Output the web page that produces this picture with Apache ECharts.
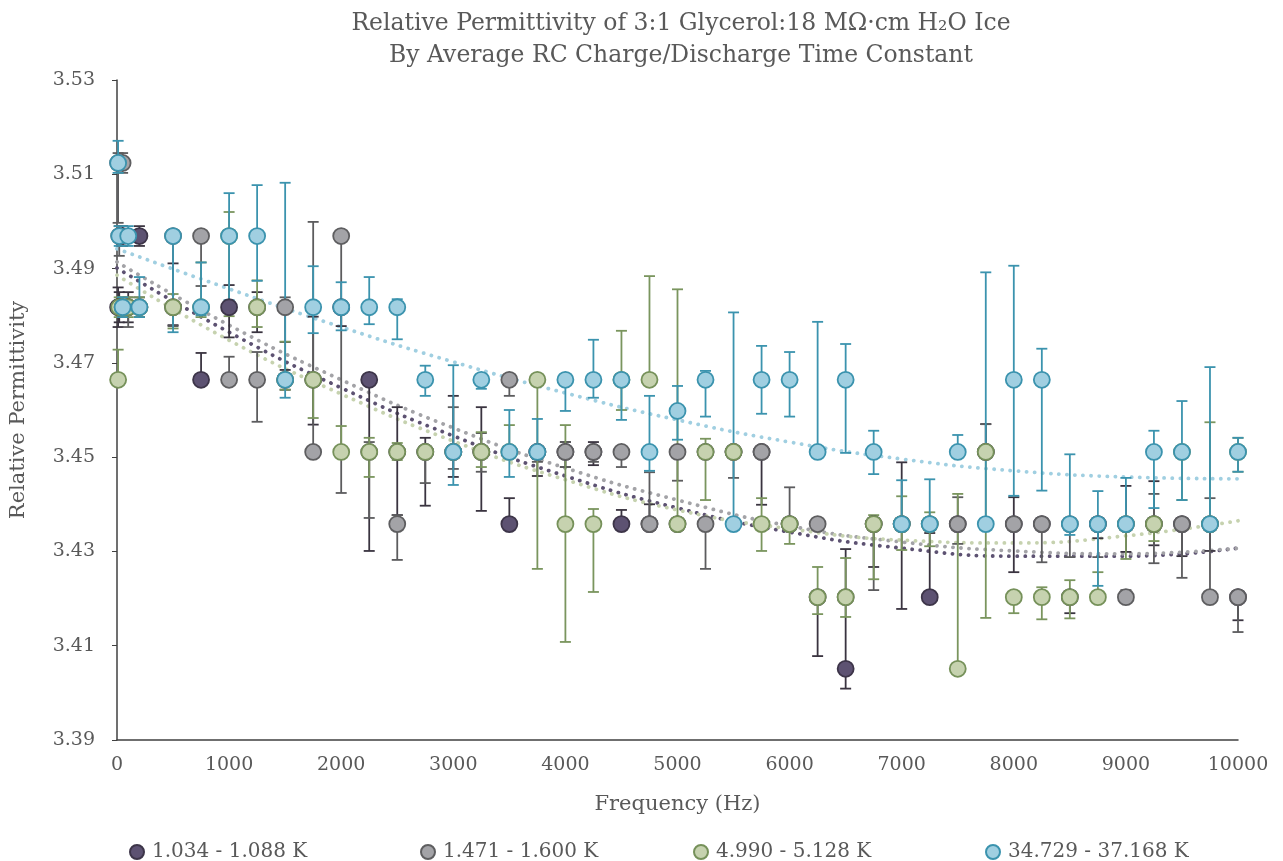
<!DOCTYPE html>
<html>
<head>
<meta charset="utf-8">
<title>Relative Permittivity</title>
<script src="https://cdn.jsdelivr.net/npm/echarts@6/dist/echarts.min.js"></script>
<style>
  html, body { margin: 0; padding: 0; background: #fff; }
  #chart { width: 1283px; height: 861px; }
</style>
</head>
<body>
<div id="chart"></div>
<script>
// frequencies (Hz)
const XS = [10, 20, 50, 100, 200, 500, 750, 1000, 1250, 1500, 1750, 2000, 2250, 2500, 2750,
  3000, 3250, 3500, 3750, 4000, 4250, 4500, 4750, 5000, 5250, 5500, 5750, 6000, 6250, 6500,
  6750, 7000, 7250, 7500, 7750, 8000, 8250, 8500, 8750, 9000, 9250, 9500, 9750, 10000];

const NAMES = ['1.034 - 1.088 K', '1.471 - 1.600 K', '4.990 - 5.128 K', '34.729 - 37.168 K'];

// 1.034 - 1.088 K
const s1Val = [3.4818, 3.4818, 3.4969, 3.4818, 3.4969, 3.4818, 3.4664, 3.4818, 3.4818, 3.4664,
  3.4664, 3.4818, 3.4664, 3.4511, 3.4511, 3.4511, 3.4511, 3.4358, 3.4511, 3.4511,
  3.4511, 3.4358, 3.4358, 3.4358, 3.4511, 3.4511, 3.4511, 3.4358, 3.4203, 3.4051,
  3.4358, 3.4358, 3.4203, 3.4358, 3.4511, 3.4358, 3.4358, 3.4203, 3.4358, 3.4358,
  3.4358, 3.4358, 3.4358, 3.4203];
const s1Plus = [0.0042, 0.0032, 0.0021, 0.0032, 0.0021, 0.0093, 0.0057, 0.0047, 0.0032, 0.0021,
  0.0134, 0.0011, 0.0011, 0.0095, 0.0030, 0.0119, 0.0095, 0.0055, 0.0011, 0.0021,
  0.0021, 0.0030, 0.0042, 0.0011, 0.0011, 0.0011, 0.0011, 0.0011, 0.0011, 0.0254,
  0.0011, 0.0131, 0.0136, 0.0011, 0.0059, 0.0057, 0.0011, 0.0011, 0.0011, 0.0081,
  0.0091, 0.0011, 0.0011, 0.0011];
const s1Minus = [0.0042, 0.0032, 0.0021, 0.0032, 0.0021, 0.0038, 0.0011, 0.0064, 0.0053, 0.0021,
  0.0095, 0.0040, 0.0363, 0.0134, 0.0114, 0.0053, 0.0125, 0.0006, 0.0051, 0.0032,
  0.0028, 0.0006, 0.0006, 0.0011, 0.0011, 0.0011, 0.0112, 0.0011, 0.0125, 0.0042,
  0.0091, 0.0180, 0.0011, 0.0011, 0.0011, 0.0102, 0.0011, 0.0034, 0.0030, 0.0059,
  0.0045, 0.0068, 0.0057, 0.0049];

// 1.471 - 1.600 K
const s2Val = [3.5124, 3.4969, 3.5124, 3.4818, 3.4818, 3.4969, 3.4969, 3.4664, 3.4664, 3.4818,
  3.4511, 3.4969, 3.4511, 3.4358, 3.4511, 3.4511, 3.4511, 3.4664, 3.4511, 3.4511,
  3.4511, 3.4511, 3.4358, 3.4511, 3.4358, 3.4511, 3.4511, 3.4358, 3.4358, 3.4203,
  3.4358, 3.4358, 3.4358, 3.4358, 3.4511, 3.4358, 3.4358, 3.4358, 3.4358, 3.4203,
  3.4358, 3.4358, 3.4203, 3.4203];
const s2Plus = [0.0021, 0.0021, 0.0021, 0.0021, 0.0021, 0.0011, 0.0011, 0.0049, 0.0059, 0.0021,
  0.0488, 0.0006, 0.0021, 0.0019, 0.0011, 0.0095, 0.0040, 0.0006, 0.0011, 0.0021,
  0.0011, 0.0011, 0.0110, 0.0011, 0.0011, 0.0011, 0.0011, 0.0078, 0.0011, 0.0011,
  0.0011, 0.0011, 0.0011, 0.0057, 0.0059, 0.0011, 0.0011, 0.0011, 0.0011, 0.0015,
  0.0064, 0.0011, 0.0210, 0.0011];
const s2Minus = [0.0127, 0.0042, 0.0021, 0.0042, 0.0021, 0.0191, 0.0106, 0.0006, 0.0089, 0.0074,
  0.0011, 0.0545, 0.0140, 0.0076, 0.0066, 0.0036, 0.0042, 0.0034, 0.0021, 0.0032,
  0.0021, 0.0032, 0.0006, 0.0061, 0.0095, 0.0055, 0.0011, 0.0011, 0.0011, 0.0011,
  0.0140, 0.0011, 0.0011, 0.0042, 0.0011, 0.0011, 0.0081, 0.0070, 0.0070, 0.0011,
  0.0083, 0.0114, 0.0011, 0.0074];

// 4.990 - 5.128 K
const s3Val = [3.4664, 3.4818, 3.4818, 3.4818, 3.4818, 3.4818, 3.4818, 3.4969, 3.4818, 3.4664,
  3.4664, 3.4511, 3.4511, 3.4511, 3.4511, 3.4511, 3.4511, 3.4511, 3.4664, 3.4358,
  3.4358, 3.4664, 3.4664, 3.4358, 3.4511, 3.4511, 3.4358, 3.4358, 3.4203, 3.4203,
  3.4358, 3.4358, 3.4358, 3.4051, 3.4511, 3.4203, 3.4203, 3.4203, 3.4203, 3.4358,
  3.4358, 3.4511, 3.4358, 3.4511];
const s3Plus = [0.0064, 0.0021, 0.0021, 0.0021, 0.0021, 0.0028, 0.0095, 0.0051, 0.0057, 0.0081,
  0.0011, 0.0055, 0.0030, 0.0019, 0.0011, 0.0011, 0.0042, 0.0057, 0.0006, 0.0210,
  0.0032, 0.0104, 0.0220, 0.0498, 0.0028, 0.0011, 0.0055, 0.0011, 0.0064, 0.0083,
  0.0019, 0.0059, 0.0025, 0.0371, 0.0011, 0.0011, 0.0021, 0.0036, 0.0053, 0.0011,
  0.0011, 0.0011, 0.0216, 0.0030];
const s3Minus = [0.0011, 0.0021, 0.0021, 0.0021, 0.0021, 0.0045, 0.0021, 0.0170, 0.0042, 0.0021,
  0.0081, 0.0011, 0.0053, 0.0017, 0.0011, 0.0011, 0.0032, 0.0011, 0.0401, 0.0250,
  0.0144, 0.0064, 0.0011, 0.0011, 0.0102, 0.0011, 0.0057, 0.0042, 0.0036, 0.0042,
  0.0117, 0.0055, 0.0047, 0.0011, 0.0352, 0.0034, 0.0047, 0.0045, 0.0011, 0.0074,
  0.0036, 0.0102, 0.0011, 0.0042];

// 34.729 - 37.168 K
const s4Val = [3.5124, 3.4969, 3.4818, 3.4969, 3.4818, 3.4969, 3.4818, 3.4969, 3.4969, 3.4664,
  3.4818, 3.4818, 3.4818, 3.4818, 3.4664, 3.4511, 3.4664, 3.4511, 3.4511, 3.4664,
  3.4664, 3.4664, 3.4511, 3.4598, 3.4664, 3.4358, 3.4664, 3.4664, 3.4511, 3.4664,
  3.4511, 3.4358, 3.4358, 3.4511, 3.4358, 3.4664, 3.4664, 3.4358, 3.4358, 3.4358,
  3.4511, 3.4511, 3.4358, 3.4511];
const s4Plus = [0.0047, 0.0021, 0.0021, 0.0021, 0.0064, 0.0006, 0.0095, 0.0091, 0.0108, 0.0418,
  0.0087, 0.0053, 0.0064, 0.0017, 0.0030, 0.0184, 0.0004, 0.0089, 0.0070, 0.0006,
  0.0085, 0.0006, 0.0119, 0.0053, 0.0019, 0.0449, 0.0072, 0.0059, 0.0276, 0.0076,
  0.0045, 0.0093, 0.0095, 0.0036, 0.0534, 0.0242, 0.0066, 0.0148, 0.0070, 0.0098,
  0.0045, 0.0108, 0.0333, 0.0030];
const s4Minus = [0.0021, 0.0021, 0.0021, 0.0021, 0.0021, 0.0204, 0.0017, 0.0136, 0.0095, 0.0038,
  0.0055, 0.0049, 0.0036, 0.0068, 0.0034, 0.0070, 0.0019, 0.0053, 0.0015, 0.0066,
  0.0038, 0.0085, 0.0040, 0.0061, 0.0078, 0.0011, 0.0072, 0.0078, 0.0011, 0.0155,
  0.0047, 0.0011, 0.0011, 0.0011, 0.0011, 0.0246, 0.0235, 0.0023, 0.0131, 0.0011,
  0.0119, 0.0102, 0.0011, 0.0042];

// polynomial trendlines, every 1000 Hz
const TREND_X = [0, 1000, 2000, 3000, 4000, 5000, 6000, 7000, 8000, 9000, 10000];
const t1 = [3.4901, 3.4765, 3.4647, 3.4545, 3.4460, 3.4392, 3.4341, 3.4307, 3.4290, 3.4290, 3.4307];
const t2 = [3.4914, 3.4780, 3.4664, 3.4562, 3.4477, 3.4409, 3.4354, 3.4320, 3.4301, 3.4295, 3.4307];
const t3 = [3.4886, 3.4748, 3.4634, 3.4534, 3.4452, 3.4388, 3.4348, 3.4324, 3.4318, 3.4333, 3.4365];
const t4 = [3.4942, 3.4857, 3.4776, 3.4702, 3.4636, 3.4579, 3.4532, 3.4496, 3.4471, 3.4458, 3.4454];

const Y_TICKS = [3.39, 3.53, 0.02]; // min, max, step

const FONT = '"DejaVu Serif", "Liberation Serif", serif';
const TEXT = '#595959';

const STYLES = [
    { fill: '#5d5272', border: '#3d3549', bar: '#3a3440', trend: '#5d5272' },
    { fill: '#a3a3a7', border: '#5e5e60', bar: '#5c5c5e', trend: '#a3a3a7' },
    { fill: '#c6d2af', border: '#76915a', bar: '#7a955e', trend: '#c6d2af' },
    { fill: '#a0cfe1', border: '#3b93ae', bar: '#3b93ae', trend: '#a0cfe1' }
];

const groups = [
    [s1Val, s1Plus, s1Minus, t1],
    [s2Val, s2Plus, s2Minus, t2],
    [s3Val, s3Plus, s3Minus, t3],
    [s4Val, s4Plus, s4Minus, t4]
];

// error bar: vertical line with caps
function errorBars(name, vals, plus, minus, color) {
    return {
        name: name,
        type: 'custom',
        z: 3,
        silent: true,
        data: XS.map((x, i) => [x, vals[i] - minus[i], vals[i] + plus[i]]),
        encode: { x: 0, y: [1, 2] },
        renderItem: function (params, api) {
            const lo = api.coord([api.value(0), api.value(1)]);
            const hi = api.coord([api.value(0), api.value(2)]);
            const w = 5.5;
            const style = { stroke: color, lineWidth: 1.8 };
            return {
                type: 'group',
                children: [
                    { type: 'line', shape: { x1: lo[0], y1: lo[1], x2: hi[0], y2: hi[1] }, style: style },
                    { type: 'line', shape: { x1: lo[0] - w, y1: lo[1], x2: lo[0] + w, y2: lo[1] }, style: style },
                    { type: 'line', shape: { x1: hi[0] - w, y1: hi[1], x2: hi[0] + w, y2: hi[1] }, style: style }
                ]
            };
        }
    };
}

const series = [];

// trendlines first, under the markers
groups.forEach((g, k) => {
    series.push({
        name: 'trend' + k,
        type: 'line',
        z: 2,
        smooth: true,
        showSymbol: false,
        silent: true,
        data: TREND_X.map((x, i) => [x, g[3][i]]),
        lineStyle: { color: STYLES[k].trend, width: 3.8, type: [0.1, 8], cap: 'round' }
    });
});

groups.forEach((g, k) => {
    series.push(errorBars('err' + k, g[0], g[1], g[2], STYLES[k].bar));
    series.push({
        name: NAMES[k],
        type: 'scatter',
        z: 3,
        symbol: 'circle',
        symbolSize: 16,
        data: XS.map((x, i) => [x, g[0][i]]),
        itemStyle: { color: STYLES[k].fill, borderColor: STYLES[k].border, borderWidth: 1.8, opacity: 1 }
    });
});

const legendLefts = [124, 415, 688, 980];

const option = {
    animation: false,
    backgroundColor: '#ffffff',
    textStyle: { fontFamily: FONT },
    title: {
        text: 'Relative Permittivity of 3:1 Glycerol:18 MΩ·cm H₂O Ice\nBy Average RC Charge/Discharge Time Constant',
        left: 676,
        top: 3,
        textAlign: 'center',
        textStyle: { fontFamily: FONT, fontSize: 23.5, fontWeight: 'normal', color: TEXT, lineHeight: 32 }
    },
    legend: NAMES.map((n, k) => ({
        data: [n],
        left: legendLefts[k],
        top: 837,
        icon: 'circle',
        itemWidth: 14,
        itemHeight: 14,
        itemGap: 0,
        textStyle: { fontFamily: FONT, fontSize: 20, color: TEXT, padding: [0, 0, 0, 3] },
        selectedMode: false
    })),
    grid: { left: 115, right: 45, top: 80, bottom: 121 },
    xAxis: {
        type: 'value',
        min: 0,
        max: 10000,
        interval: 1000,
        name: 'Frequency (Hz)',
        nameLocation: 'middle',
        nameGap: 54,
        nameTextStyle: { fontFamily: FONT, fontSize: 21, color: TEXT },
        axisLine: { show: true, onZero: false, lineStyle: { color: '#404040', width: 1.5 } },
        axisTick: { show: false },
        splitLine: { show: false },
        axisLabel: { fontFamily: FONT, fontSize: 19, color: TEXT, margin: 16, formatter: v => String(v) }
    },
    yAxis: {
        type: 'value',
        min: Y_TICKS[0],
        max: Y_TICKS[1],
        interval: Y_TICKS[2],
        name: 'Relative Permittivity',
        nameLocation: 'middle',
        nameGap: 88,
        nameTextStyle: { fontFamily: FONT, fontSize: 21, color: TEXT },
        axisLine: { show: true, lineStyle: { color: '#404040', width: 1.5 } },
        axisTick: { show: true, length: 5, lineStyle: { color: '#404040' } },
        splitLine: { show: false },
        axisLabel: {
            fontFamily: FONT, fontSize: 19, color: TEXT, margin: 22,
            formatter: v => v.toFixed(2)
        }
    },
    series: series
};

const chart = echarts.init(document.getElementById('chart'), null, { renderer: 'canvas' });
chart.setOption(option);
</script>
</body>
</html>
